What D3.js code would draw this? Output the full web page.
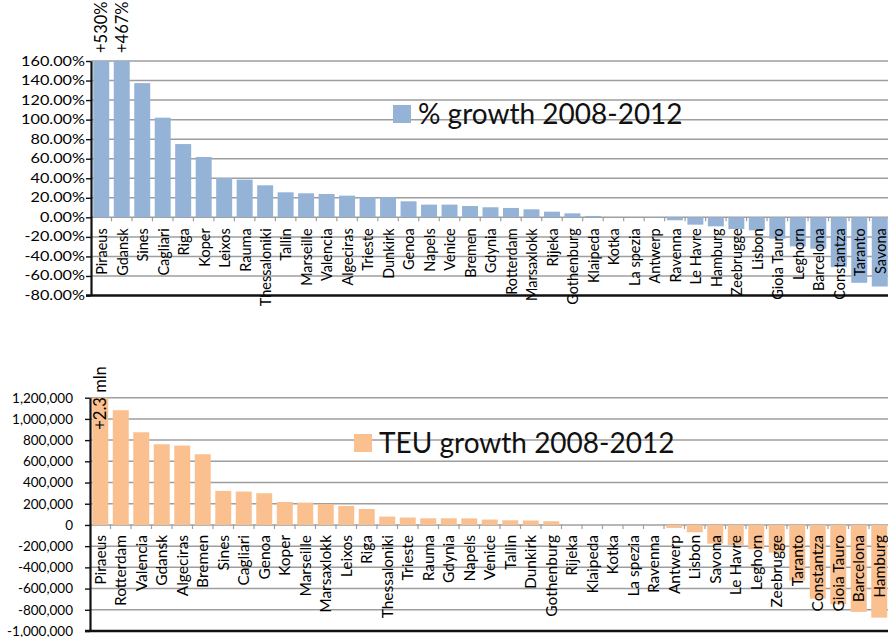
<!DOCTYPE html>
<html lang="en">
<head>
<meta charset="UTF-8">
<title>Port growth 2008-2012</title>
<script src="https://cdn.jsdelivr.net/npm/d3@7/dist/d3.min.js"></script>
<style>
  body { margin: 0; background: #fff; }
  svg text { font-family: Lato, "Open Sans", sans-serif; fill: #000; }
</style>
</head>
<body>
<svg id="chart" width="888" height="637"></svg>
<script>
// ---- % growth 2008-2012 ----
const pctPorts = ['Piraeus', 'Gdansk', 'Sines', 'Cagliari', 'Riga', 'Koper', 'Leixos', 'Rauma',
  'Thessaloniki', 'Tallin', 'Marseille', 'Valencia', 'Algeciras', 'Trieste', 'Dunkirk', 'Genoa',
  'Napels', 'Venice', 'Bremen', 'Gdynia', 'Rotterdam', 'Marsaxlokk', 'Rijeka', 'Gothenburg',
  'Klaipeda', 'Kotka', 'La spezia', 'Antwerp', 'Ravenna', 'Le Havre', 'Hamburg', 'Zeebrugge',
  'Lisbon', 'Gioia Tauro', 'Leghorn', 'Barcelona', 'Constantza', 'Taranto', 'Savona']
const pctValues = [530, 467, 137.4, 102, 75, 61.8, 40.3, 38.6,
  32.8, 25.6, 24.6, 23.9, 22.2, 20.8, 20.8, 16.4,
  13, 13, 11.6, 10.3, 9.6, 8.2, 5.8, 4.1,
  1.4, 0.2, 0.1, -0.3, -3, -7.5, -9.2, -12,
  -13.3, -21.9, -29.7, -32.1, -51, -67, -70.8]
const pctTicks = [160, 140, 120, 100, 80, 60, 40, 20, 0, -20, -40, -60, -80]
const pctNotes = [['Piraeus', '+530%'], ['Gdansk', '+467%']]

// ---- TEU growth 2008-2012 ----
const teuPorts = ['Piraeus', 'Rotterdam', 'Valencia', 'Gdansk', 'Algeciras', 'Bremen', 'Sines',
  'Cagliari', 'Genoa', 'Koper', 'Marseille', 'Marsaxlokk', 'Leixos', 'Riga', 'Thessaloniki',
  'Trieste', 'Rauma', 'Gdynia', 'Napels', 'Venice', 'Tallin', 'Dunkirk', 'Gothenburg', 'Rijeka',
  'Klaipeda', 'Kotka', 'La spezia', 'Ravenna', 'Antwerp', 'Lisbon', 'Savona', 'Le Havre',
  'Leghorn', 'Zeebrugge', 'Taranto', 'Constantza', 'Gioia Tauro', 'Barcelona', 'Hamburg']
const teuValues = [2300000, 1082000, 874000, 761000, 749000, 667000, 321000,
  315000, 299000, 217000, 211000, 198000, 179000, 151000, 79000,
  70000, 63000, 63000, 62000, 51000, 44000, 42000, 35000, 2000,
  1000, 500, 300, -1000, -28000, -69000, -176000, -189000,
  -229000, -261000, -525000, -695000, -748000, -820000, -874000]
const teuTicks = [1200000, 1000000, 800000, 600000, 400000, 200000, 0,
  -200000, -400000, -600000, -800000, -1000000]
const teuNotes = [['Piraeus', '+2.3 mln']]

const loc = d3.formatLocale({ decimal: '.', thousands: ',', grouping: [3], currency: ['', ''], minus: '-' })
const fmtPct = v => loc.format('.2f')(v) + '%'
const fmtTeu = v => loc.format(',')(v)

const svg = d3.select('#chart')

function drawChart(o) {
  const g = svg.append('g')
  const x = d3.scaleBand().domain(o.ports).range([o.left, o.right])
    .paddingInner(0.22).paddingOuter(0.11)
  const y = d3.scaleLinear().domain(d3.extent(o.ticks)).range([o.bottom, o.top]).clamp(true)
  const y0 = y(0)
  const lowest = d3.min(o.ticks)

  // gridlines
  g.selectAll('.grid').data(o.ticks.filter(t => t !== lowest)).enter()
    .append('line')
    .attr('x1', o.left).attr('x2', 888)
    .attr('y1', d => y(d)).attr('y2', d => y(d))
    .attr('stroke', '#9e9e9e').attr('stroke-width', 1.5)

  // bars
  g.selectAll('rect').data(o.values).enter()
    .append('rect')
    .attr('x', (d, i) => x(o.ports[i]))
    .attr('width', x.bandwidth())
    .attr('y', d => Math.min(y(d), y0))
    .attr('height', d => Math.abs(y(d) - y0))
    .attr('fill', o.color)

  // category tick marks on the zero line, between bars
  const step = x.step()
  g.selectAll('.ctick').data(d3.range(1, o.ports.length + 1)).enter()
    .append('line')
    .attr('x1', i => o.left + i * step).attr('x2', i => o.left + i * step)
    .attr('y1', y0).attr('y2', y0 + 4)
    .attr('stroke', '#9e9e9e').attr('stroke-width', 1.2)

  // bottom line
  g.append('line')
    .attr('x1', o.left - 5).attr('x2', 888)
    .attr('y1', y(lowest)).attr('y2', y(lowest))
    .attr('stroke', '#111').attr('stroke-width', 2.4)

  // y axis
  const axis = g.append('g')
    .attr('transform', `translate(${o.left},0)`)
    .call(d3.axisLeft(y).tickValues(o.ticks).tickFormat(o.fmt).tickSize(5).tickSizeOuter(0))
  axis.select('.domain').attr('stroke', '#111').attr('stroke-width', 2.2)
  axis.selectAll('.tick line').attr('stroke', '#111').attr('stroke-width', 1.4)
  axis.selectAll('.tick text')
    .attr('x', null)
    .attr('transform', `translate(${-o.yGap},0) scale(${o.ySx},1)`)
    .style('font-size', o.ySize + 'px')
    .style('fill', '#000')

  // category labels
  g.selectAll('.cat').data(o.ports).enter()
    .append('text')
    .attr('transform', d => `translate(${x(d) + x.bandwidth() / 2},${y0 + o.catGap}) scale(${o.catSx},1) rotate(-90)`)
    .attr('text-anchor', 'end')
    .attr('dy', '0.36em')
    .style('font-size', o.catSize + 'px')
    .text(d => d)

  // notes for clipped bars
  g.selectAll('.note').data(o.notes).enter()
    .append('text')
    .attr('transform', d => `translate(${x(d[0]) + x.bandwidth() / 2},${o.top + o.noteOffset}) rotate(-90)`)
    .attr('text-anchor', 'start')
    .attr('dy', '0.36em')
    .style('font-size', o.noteSize + 'px')
    .text(d => d[1])

  // legend
  g.append('rect')
    .attr('x', o.legend[0]).attr('y', o.legend[1])
    .attr('width', 18).attr('height', 18)
    .attr('fill', o.color)
  g.append('text')
    .attr('x', o.legend[0] + 25).attr('y', o.legend[1] + 18.5)
    .style('font-size', '28px')
    .style('fill', '#111')
    .text(o.title)
}

drawChart({
  ports: pctPorts, values: pctValues, ticks: pctTicks, notes: pctNotes, fmt: fmtPct,
  left: 91, right: 890, top: 61, bottom: 295.5,
  color: '#95b3d7', title: '% growth 2008-2012', legend: [393, 105],
  yGap: 6, ySize: 12.5, ySx: 1.3,
  catGap: 11, catSize: 14.5, catSx: 1.12,
  noteOffset: -8, noteSize: 16.5
})

drawChart({
  ports: teuPorts, values: teuValues, ticks: teuTicks, notes: teuNotes, fmt: fmtTeu,
  left: 90, right: 889.5, top: 397.7, bottom: 631,
  color: '#fac090', title: 'TEU growth 2008-2012', legend: [354, 434],
  yGap: 17, ySize: 13.5, ySx: 1,
  catGap: 10, catSize: 15.5, catSx: 1,
  noteOffset: 32, noteSize: 16.5
})
</script>
</body>
</html>
